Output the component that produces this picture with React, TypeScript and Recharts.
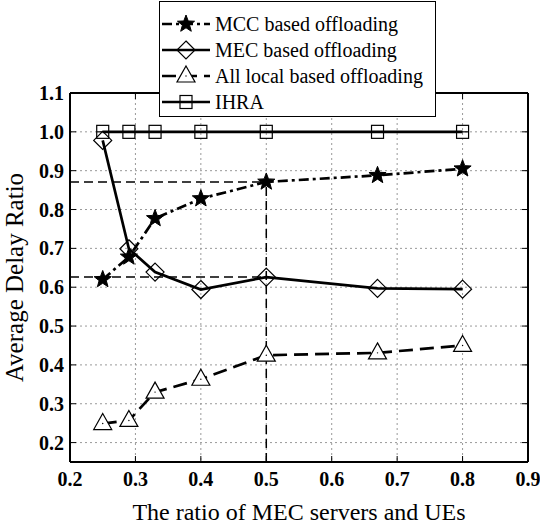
import { LineChart, Line, XAxis, YAxis, CartesianGrid, ReferenceLine } from 'recharts';

// ratio of MEC servers and UEs
const ueRatio = [0.25, 0.29, 0.33, 0.4, 0.5, 0.67, 0.8];
const mccDelay = [0.62, 0.678, 0.777, 0.828, 0.871, 0.888, 0.905];
const mecDelay = [0.978, 0.699, 0.639, 0.594, 0.626, 0.597, 0.595];
const localDelay = [0.249, 0.257, 0.33, 0.363, 0.425, 0.431, 0.45];
const ihraDelay = [1, 1, 1, 1, 1, 1, 1];

const xTicks = [0.2, 0.3, 0.4, 0.5, 0.6, 0.7, 0.8, 0.9];
const yTicks = [0.2, 0.3, 0.4, 0.5, 0.6, 0.7, 0.8, 0.9, 1.0, 1.1];

// dashed guide lines
const guideX = 0.5;
const guideMcc = 0.871;
const guideMec = 0.626;

const rows = ueRatio.map((x, i) => ({
  x,
  mcc: mccDelay[i],
  mec: mecDelay[i],
  local: localDelay[i],
  ihra: ihraDelay[i],
}));

const FONT = "'Liberation Serif', 'Times New Roman', serif";
const serif = { fontFamily: FONT };
const W = 540;
const H = 527;
const M = { top: 93, right: 12, bottom: 0, left: 0 };
const Y_W = 70;
const X_H = 65;
const PL = M.left + Y_W;
const PR = W - M.right;
const PT = M.top;
const PB = H - X_H;
const TICK = 6;
const LW = 2.7;

function starPoints(cx: number, cy: number, R: number) {
  const r = R * 0.42;
  const pts: string[] = [];
  for (let i = 0; i < 10; i++) {
    const a = ((-90 + i * 36) * Math.PI) / 180;
    const rad = i % 2 === 0 ? R : r;
    pts.push(`${cx + rad * Math.cos(a)},${cy + rad * Math.sin(a)}`);
  }
  return pts.join(' ');
}

const Star = ({ cx, cy }: any) => <polygon points={starPoints(cx, cy, 9)} fill="#000" stroke="#000" strokeWidth={1} />;

const Diamond = ({ cx, cy }: any) => (
  <polygon points={`${cx},${cy - 9} ${cx + 9},${cy} ${cx},${cy + 9} ${cx - 9},${cy}`} fill="none" stroke="#000" strokeWidth={1.2} />
);

const Triangle = ({ cx, cy }: any) => (
  <g>
    <polygon points={`${cx},${cy - 10} ${cx + 9},${cy + 6} ${cx - 9},${cy + 6}`} fill="#fff" stroke="#000" strokeWidth={1.2} />
    <circle cx={cx} cy={cy} r={0.7} fill="#000" />
  </g>
);

const Square = ({ cx, cy }: any) => (
  <g>
    <rect x={cx - 6} y={cy - 6.5} width={12} height={13} fill="none" stroke="#000" strokeWidth={1.2} />
    <line x1={cx - 6} x2={cx + 6} y1={cy} y2={cy} stroke="#000" strokeWidth={1.2} />
  </g>
);

const YTick = ({ x, y, payload }: any) => (
  <g>
    <text x={x} y={y} dy="0.35em" textAnchor="end" style={{ ...serif, fontWeight: 'bold', fontSize: 20 }} fill="#000">
      {Number(payload.value).toFixed(1)}
    </text>
    <line x1={PL} x2={PL + TICK} y1={y} y2={y} stroke="#000" strokeWidth={1} />
    <line x1={PR} x2={PR - TICK} y1={y} y2={y} stroke="#000" strokeWidth={1} />
  </g>
);

const XTick = ({ x, y, payload }: any) => (
  <g>
    <text x={x} y={y} dy="0.71em" textAnchor="middle" style={{ ...serif, fontWeight: 'bold', fontSize: 20 }} fill="#000">
      {Number(payload.value).toFixed(1)}
    </text>
    <line x1={x} x2={x} y1={PB} y2={PB - TICK} stroke="#000" strokeWidth={1} />
    <line x1={x} x2={x} y1={PT} y2={PT + TICK} stroke="#000" strokeWidth={1} />
  </g>
);

const legendItems = [
  { name: 'MCC based offloading', dash: '10 4 3 4', Marker: Star },
  { name: 'MEC based offloading', dash: undefined, Marker: Diamond },
  { name: 'All local based offloading', dash: '14 7', Marker: Triangle },
  { name: 'IHRA', dash: undefined, Marker: Square },
];

function LegendBox() {
  const left = 159;
  const top = 1;
  return (
    <svg width={W} height={130} style={{ position: 'absolute', left: 0, top: 0, pointerEvents: 'none' }}>
      <rect x={left + 0.5} y={top + 0.5} width={276} height={115} fill="#fff" stroke="#000" strokeWidth={1} />
      {legendItems.map((item, i) => {
        const cy = 24 + i * 26;
        const Mk = item.Marker;
        return (
          <g key={item.name}>
            <line x1={162} x2={210} y1={cy} y2={cy} stroke="#000" strokeWidth={LW} strokeDasharray={item.dash} />
            <Mk cx={186} cy={cy} />
            <text x={215} y={cy} dy="0.35em" style={{ ...serif, fontSize: 20 }} fill="#000">
              {item.name}
            </text>
          </g>
        );
      })}
    </svg>
  );
}

export default function App() {
  return (
    <div style={{ position: 'absolute', left: 0, top: 0, width: W, height: H, background: '#fff', ...serif }}>
      <LineChart width={W} height={H} data={rows} margin={M}>
        <CartesianGrid stroke="#999" strokeDasharray="2 3" strokeWidth={1} />
        <XAxis
          dataKey="x"
          type="number"
          domain={[0.2, 0.9]}
          ticks={xTicks}
          height={X_H}
          tickSize={0}
          tickMargin={10}
          tickLine={false}
          tick={<XTick />}
          axisLine={{ stroke: '#000', strokeWidth: 2 }}
          label={{ value: 'The ratio of MEC servers and UEs', position: 'insideBottom', offset: 7, fill: '#000', style: { ...serif, fontSize: 24 } }}
        />
        <YAxis
          type="number"
          domain={[0.15, 1.1]}
          ticks={yTicks}
          width={Y_W}
          tickSize={0}
          tickMargin={6}
          tickLine={false}
          tick={<YTick />}
          axisLine={{ stroke: '#000', strokeWidth: 2 }}
          label={{ value: 'Average Delay Ratio', angle: -90, position: 'center', dx: -21, fill: '#000', style: { ...serif, fontSize: 25 } }}
        />
        <ReferenceLine y={1.1} stroke="#000" strokeWidth={2} />
        <ReferenceLine x={0.9} stroke="#000" strokeWidth={2} />
        <ReferenceLine segment={[{ x: 0.2, y: guideMcc }, { x: guideX, y: guideMcc }]} stroke="#000" strokeWidth={1.5} strokeDasharray="9 5" />
        <ReferenceLine segment={[{ x: 0.2, y: guideMec }, { x: guideX, y: guideMec }]} stroke="#000" strokeWidth={1.5} strokeDasharray="9 5" />
        <ReferenceLine segment={[{ x: guideX, y: 0.15 }, { x: guideX, y: guideMcc }]} stroke="#000" strokeWidth={1.5} strokeDasharray="9 5" />
        <Line type="linear" dataKey="ihra" stroke="#000" strokeWidth={LW} isAnimationActive={false} activeDot={false}
          dot={(p: any) => <Square key={`q-${p.index}`} cx={p.cx} cy={p.cy} />} />
        <Line type="linear" dataKey="local" stroke="#000" strokeWidth={LW} strokeDasharray="14 7" isAnimationActive={false} activeDot={false}
          dot={(p: any) => <Triangle key={`t-${p.index}`} cx={p.cx} cy={p.cy} />} />
        <Line type="linear" dataKey="mec" stroke="#000" strokeWidth={LW} isAnimationActive={false} activeDot={false}
          dot={(p: any) => <Diamond key={`d-${p.index}`} cx={p.cx} cy={p.cy} />} />
        <Line type="linear" dataKey="mcc" stroke="#000" strokeWidth={LW} strokeDasharray="10 4 3 4" isAnimationActive={false} activeDot={false}
          dot={(p: any) => <Star key={`s-${p.index}`} cx={p.cx} cy={p.cy} />} />
      </LineChart>
      <LegendBox />
    </div>
  );
}
